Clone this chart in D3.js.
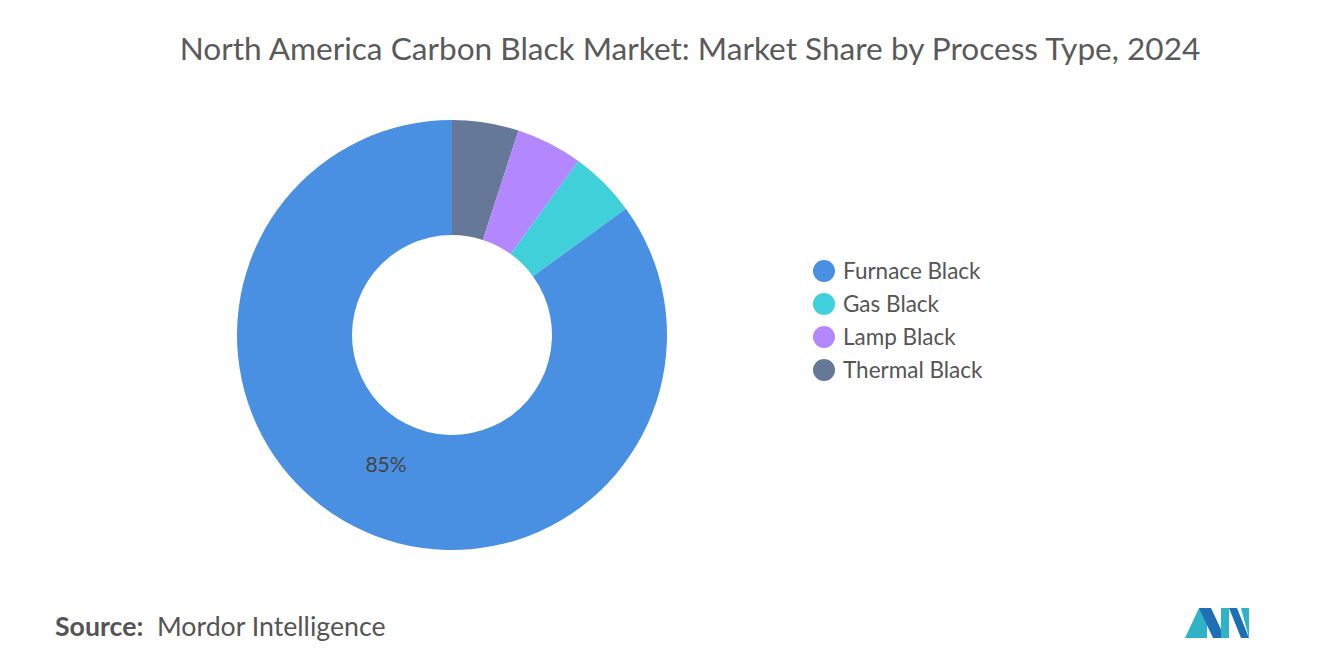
<!DOCTYPE html>
<html>
<head>
<meta charset="utf-8">
<script src="https://cdn.jsdelivr.net/npm/d3@7"></script>
<style>
  body { margin: 0; background: #fff; font-family: Lato, "Open Sans", sans-serif; }
</style>
</head>
<body>
<script>
const LABELS = ['Furnace Black', 'Gas Black', 'Lamp Black', 'Thermal Black']
const VALUES = [85, 5, 5, 5]
const COLORS = ['#4A90E2', '#40D0DA', '#B388FF', '#667897']
// drawing order clockwise from 12 o'clock
const DRAW_ORDER = ['Thermal Black', 'Lamp Black', 'Gas Black', 'Furnace Black']

const width = 1320, height = 665
const svg = d3.select('body').append('svg')
  .attr('width', width).attr('height', height)

svg.append('text')
  .attr('x', 690).attr('y', 60)
  .attr('text-anchor', 'middle')
  .attr('font-size', 31.6)
  .attr('fill', '#5a5a5a')
  .text('North America Carbon Black Market: Market Share by Process Type, 2024')

const data = DRAW_ORDER.map(n => ({ name: n, value: VALUES[LABELS.indexOf(n)] }))
const color = d3.scaleOrdinal().domain(LABELS).range(COLORS)

const pie = d3.pie().sort(null).value(d => d.value)
const arc = d3.arc().innerRadius(100).outerRadius(215)
const g = svg.append('g').attr('transform', 'translate(452,335)')

const arcs = pie(data)
g.selectAll('path').data(arcs).enter().append('path')
  .attr('d', arc)
  .attr('fill', d => color(d.data.name))

const big = arcs.find(d => d.data.name === 'Furnace Black')
g.append('text')
  .attr('x', -66).attr('y', 137)
  .attr('text-anchor', 'middle')
  .attr('font-size', 21)
  .attr('fill', '#444')
  .text(big.data.value + '%')

// legend
const legend = svg.append('g').attr('transform', 'translate(824,271)')
const item = legend.selectAll('g').data(LABELS).enter().append('g')
  .attr('transform', (d, i) => 'translate(0,' + i * 33 + ')')
item.append('circle').attr('r', 11).attr('fill', d => color(d))
item.append('text')
  .attr('x', 19).attr('y', 8)
  .attr('font-size', 22.5)
  .attr('fill', '#555')
  .text(d => d)

// source
svg.append('text')
  .attr('x', 55).attr('y', 636)
  .attr('font-size', 26.7)
  .attr('fill', '#555')
  .html('<tspan font-weight="bold">Source:</tspan>&#160; Mordor Intelligence')

// logo
const logo = svg.append('g').attr('transform', 'translate(1185,604)')
logo.append('polygon').attr('points', '0,34 14,4 22,4 22,34').attr('fill', '#2fb3c6')
logo.append('polygon').attr('points', '14,4 26,4 40,34 28,34').attr('fill', '#1f6fb5')
logo.append('polygon').attr('points', '36,34 36,4 44,4 44,34').attr('fill', '#2fb3c6')
logo.append('polygon').attr('points', '44,4 52,4 64,34 56,34').attr('fill', '#1f6fb5')
logo.append('polygon').attr('points', '56,4 64,4 64,34').attr('fill', '#2fb3c6')
</script>
</body>
</html>
